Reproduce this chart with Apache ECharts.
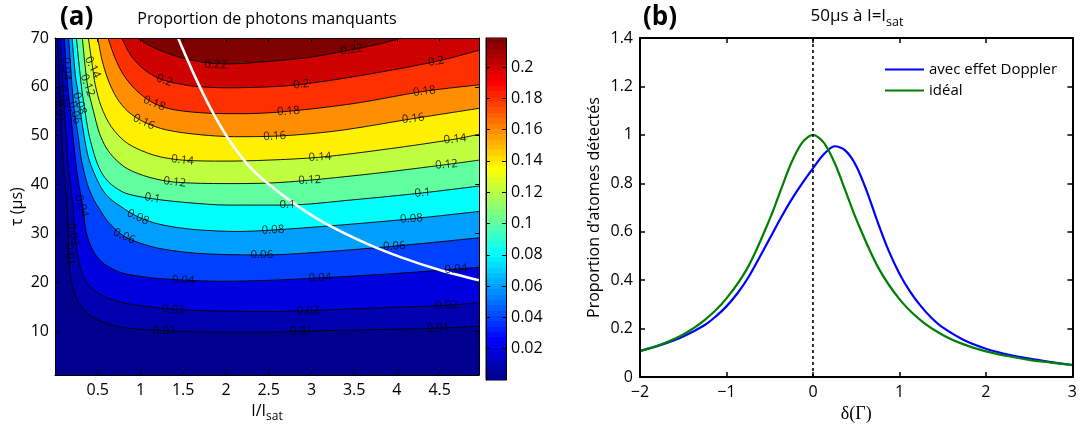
<!DOCTYPE html>
<html>
<head>
<meta charset="utf-8">
<title>Proportion de photons manquants</title>
<script src="https://cdn.jsdelivr.net/npm/echarts@6.0.0/dist/echarts.min.js"></script>
<style>
html,body{margin:0;padding:0;background:#ffffff;}
#chart{width:1080px;height:428px;}
</style>
</head>
<body>
<div id="chart"></div>
<script>
// ================= Panel (a) : contour data (I/Isat , tau in µs) =================
const contourLevels = [0.01, 0.02, 0.04, 0.06, 0.08, 0.1, 0.12, 0.14, 0.16, 0.18, 0.2, 0.22];
const line001 = [[0.03,70],[0.055,60],[0.08,50],[0.1,44],[0.125,39],[0.145,35],[0.155,29],[0.165,24],[0.2,19.5],[0.27,16],[0.38,13.6],[0.5,12.3],[0.77,10.8],[1.28,10.1],[1.94,9.8],[2.5,9.8],[2.9,10.0],[3.7,10.3],[4.48,10.6],[4.96,11.0]];
const line002 = [[0.06,70],[0.095,60],[0.13,50],[0.155,44],[0.18,40],[0.21,35.5],[0.235,29.5],[0.27,25],[0.32,21.7],[0.38,19.7],[0.48,18.1],[0.6,16.9],[0.8,15.8],[0.97,15.3],[1.3,14.6],[1.7,14.2],[2.5,14.0],[2.96,14.2],[3.7,14.7],[4.58,15.3],[4.96,15.8]];
const line004 = [[0.11,70],[0.13,64],[0.15,60],[0.18,55],[0.21,50],[0.24,45],[0.28,40],[0.325,35.5],[0.364,30.4],[0.41,27.8],[0.48,25.5],[0.58,23.7],[0.77,22],[1.08,21],[1.45,20.5],[1.94,20.2],[2.5,20.4],[3.1,20.9],[3.9,21.7],[4.69,22.7],[4.96,23.05]];
const line006 = [[0.16,70],[0.2,60],[0.23,54.7],[0.27,50],[0.31,45],[0.38,40],[0.45,37],[0.52,35],[0.62,32.4],[0.81,29.4],[1.0,28],[1.2,27],[1.55,26.1],[1.94,25.7],[2.45,25.6],[3.2,26.3],[3.97,27.4],[4.96,29.1]];
const line008 = [[0.2,70],[0.24,62],[0.26,60],[0.285,56.6],[0.34,50],[0.4,45],[0.52,40],[0.62,37.5],[0.77,35.5],[0.97,33.4],[1.24,31.8],[1.63,30.8],[2.14,30.4],[2.55,30.7],[3.4,31.8],[4.17,33],[4.96,34.5]];
const line010 = [[0.25,70],[0.31,60],[0.36,54],[0.4,50],[0.48,45],[0.56,42],[0.66,40],[0.83,38.2],[1.14,37.1],[1.55,36.3],[2.02,35.8],[2.7,35.8],[3.5,36.9],[4.3,38.3],[4.96,39.7]];
const line012 = [[0.32,70],[0.38,60.3],[0.45,55],[0.52,50.5],[0.6,47.5],[0.7,45.3],[0.85,43.2],[1.1,41.5],[1.4,40.5],[2.0,40.2],[2.49,40.3],[2.98,40.9],[3.8,42.4],[4.58,44.1],[4.96,45.0]];
const line014 = [[0.39,70],[0.44,64],[0.47,60.5],[0.54,56],[0.66,51.8],[0.85,48.4],[1.16,46],[1.49,45.0],[2.0,44.8],[2.49,45.0],[3.1,45.6],[3.9,47.3],[4.68,49.3],[4.96,50.3]];
const line016 = [[0.5,70],[0.55,65.5],[0.62,61.5],[0.72,57.8],[0.85,55],[1.04,52.8],[1.3,51.2],[1.7,50.2],[2.1,49.8],[2.57,49.9],[3.3,51],[4.19,53.5],[4.96,55.6]];
const line018 = [[0.62,70],[0.7,66],[0.8,62.5],[0.95,59.3],[1.16,56.6],[1.4,55.3],[1.8,54.6],[2.2,54.5],[2.73,55.0],[3.5,56.6],[4.32,59.1],[4.96,60.4]];
const line020 = [[0.78,70],[0.88,66.6],[1.0,64.2],[1.13,62.5],[1.28,61.3],[1.6,60.2],[2.0,59.8],[2.5,60.0],[2.88,60.5],[3.6,62.4],[4.46,65.2],[4.96,67.5]];
const line022 = [[0.97,70],[1.08,68.7],[1.24,67.4],[1.47,66],[1.75,65],[2.02,64.7],[2.5,65.2],[3.0,66.1],[3.47,67.6],[3.8,68.8],[4.05,70]];
const contourLines = [line001, line002, line004, line006, line008, line010, line012, line014, line016, line018, line020, line022];

// white curve
const whiteCurve = [[1.44,70],[1.63,62.4],[1.82,55.6],[2.02,49.6],[2.25,44.2],[2.49,40.2],[2.84,35.6],[3.19,31.8],[3.66,27.8],[4.05,25.1],[4.52,22.4],[4.96,20.4]];

// contour labels: [x, y, text, angle]
const contourLabels = [
  [1.88,64.5,'0.22',-2],[3.47,67.6,'0.22',9],
  [1.28,61.3,'0.2',-20],[2.88,60.5,'0.2',5],[4.46,65.2,'0.2',10],
  [1.16,56.6,'0.18',-22],[2.73,55.0,'0.18',4],[4.32,59.1,'0.18',7],
  [1.04,52.8,'0.16',-25],[2.57,49.9,'0.16',3],[4.19,53.5,'0.16',6],
  [1.49,45.0,'0.14',-7],[3.10,45.6,'0.14',3],[4.68,49.3,'0.14',6],
  [1.40,40.5,'0.12',-7],[2.98,40.9,'0.12',3],[4.58,44.1,'0.12',5],
  [1.14,37.2,'0.1',-10],[2.72,35.8,'0.1',0],[4.30,38.3,'0.1',4],
  [0.97,33.3,'0.08',-25],[2.55,30.7,'0.08',2],[4.17,33.0,'0.08',4],
  [0.81,29.4,'0.06',-25],[2.42,25.6,'0.06',0],[3.97,27.4,'0.06',3],
  [1.5,20.4,'0.04',-3],[3.10,20.9,'0.04',2],[4.69,22.7,'0.04',4],
  [1.38,14.4,'0.02',-3],[2.96,14.2,'0.02',2],[4.58,15.3,'0.02',3],
  [1.28,10.1,'0.01',-2],[2.88,10.0,'0.01',1],[4.48,10.6,'0.01',2],
  [0.44,64.0,'0.14',-65],[0.38,60.3,'0.12',-70],[0.285,56.6,'0.08',-72],[0.23,54.7,'0.06',-75],
  [0.13,63.7,'0.04',-88],[0.09,58.0,'0.02',-88],[0.05,55.0,'0.01',-90],
  [0.31,35.6,'0.04',-72],[0.21,29.8,'0.02',-80],[0.17,25.7,'0.01',-85]
];

const xTicksA = [0.5, 1, 1.5, 2, 2.5, 3, 3.5, 4, 4.5];
const yTicksA = [10, 20, 30, 40, 50, 60, 70];
const colorbarTicks = [0.02, 0.04, 0.06, 0.08, 0.1, 0.12, 0.14, 0.16, 0.18, 0.2];
const colorLimits = [0.001, 0.2185];

// ================= Panel (b) : detuning curves =================
const dopplerCurve = [[-2,0.108],[-1.75,0.134],[-1.5,0.168],[-1.25,0.215],[-1.125,0.25],[-1.0,0.292],[-0.875,0.345],[-0.75,0.41],[-0.625,0.49],[-0.5,0.572],[-0.375,0.655],[-0.25,0.732],[-0.125,0.8],[0,0.862],[0.125,0.92],[0.25,0.953],[0.375,0.935],[0.5,0.872],[0.625,0.765],[0.75,0.638],[0.875,0.522],[1.0,0.427],[1.125,0.352],[1.25,0.292],[1.375,0.243],[1.5,0.205],[1.75,0.152],[2.0,0.117],[2.25,0.093],[2.5,0.076],[2.75,0.062],[3,0.05]];
const idealCurve = [[-2,0.107],[-1.75,0.136],[-1.5,0.176],[-1.25,0.236],[-1.0,0.325],[-0.75,0.455],[-0.5,0.652],[-0.375,0.77],[-0.25,0.885],[-0.125,0.968],[0,1.0],[0.125,0.968],[0.25,0.885],[0.375,0.77],[0.5,0.652],[0.75,0.455],[1.0,0.322],[1.25,0.233],[1.5,0.174],[1.75,0.134],[2.0,0.106],[2.25,0.087],[2.5,0.071],[2.75,0.06],[3,0.05]];
const resonanceLine = [[0,0],[0,1.4]];
const seriesNamesB = ['avec effet Doppler', 'idéal'];

// ================= helpers (colormap) =================
const F = "'Open Sans', 'DejaVu Sans', sans-serif";
function jet64(k){ // MATLAB jet(64), k = 1..64
  const u = [];
  for (let i = 1; i <= 16; i++) u.push(i/16);
  for (let i = 0; i < 15; i++) u.push(1);
  for (let i = 16; i >= 1; i--) u.push(i/16);
  const f = i => (i >= 0 && i < u.length) ? u[i] : 0;
  const r = f(k-25), g = f(k-9), b = f(k+7);
  const h = v => Math.round(v*255).toString(16).padStart(2,'0');
  return '#' + h(r) + h(g) + h(b);
}
function colorOf(v){
  let k = Math.floor((v - colorLimits[0]) / (colorLimits[1] - colorLimits[0]) * 64) + 1;
  k = Math.max(1, Math.min(64, k));
  return jet64(k);
}
const cbStops = [];
for (let k = 1; k <= 64; k++){
  cbStops.push({offset:(k-1)/64, color:jet64(k)});
  cbStops.push({offset:k/64, color:jet64(k)});
}

const black = '#000';
function tickAxis(extra){
  return Object.assign({
    axisLine:{show:true, onZero:false, lineStyle:{color:black, width:1}},
    splitLine:{show:false},
    z:10
  }, extra);
}
const subRich = {
  n:{fontSize:16, fontFamily:F, color:black, fill:black, verticalAlign:'bottom', padding:[0,0,4,0]},
  s:{fontSize:12, fontFamily:F, color:black, fill:black, verticalAlign:'bottom'}
};
const subRich17 = {
  n:{fontSize:17, fontFamily:F, color:black, fill:black, verticalAlign:'bottom', padding:[0,0,4,0]},
  s:{fontSize:12.5, fontFamily:F, color:black, fill:black, verticalAlign:'bottom'}
};

const series = [];
contourLevels.forEach((lv, i) => {
  series.push({
    type:'line', xAxisIndex:0, yAxisIndex:0, data:contourLines[i],
    smooth:0.3, symbol:'none', silent:true, clip:true,
    lineStyle:{color:black, width:0.9},
    areaStyle:{origin:'end', color:colorOf(lv), opacity:1}
  });
});
series.push({
  type:'line', xAxisIndex:0, yAxisIndex:0, data:whiteCurve, smooth:0.3, symbol:'none', silent:true,
  lineStyle:{color:'#ffffff', width:2.6}, z:4
});
series.push({
  type:'scatter', xAxisIndex:0, yAxisIndex:0, symbolSize:0, silent:true, z:5,
  itemStyle:{color:'transparent'},
  data: contourLabels.map(d => ({value:[d[0], d[1]], name:d[2], label:{rotate:d[3]}})),
  label:{show:true, position:'inside', formatter:p => p.name, color:black, fontSize:11.5, fontFamily:F}
});
series.push({
  type:'bar', xAxisIndex:2, yAxisIndex:2, data:[colorLimits[1]], barWidth:'100%', silent:true,
  itemStyle:{color:new echarts.graphic.LinearGradient(0,1,0,0,cbStops)}
});
series.push({
  name:seriesNamesB[0], type:'line', xAxisIndex:3, yAxisIndex:4, data:dopplerCurve, smooth:0.3, symbol:'none',
  lineStyle:{color:'#0000ff', width:2.2}, itemStyle:{color:'#0000ff'}
});
series.push({
  name:seriesNamesB[1], type:'line', xAxisIndex:3, yAxisIndex:4, data:idealCurve, smooth:0.3, symbol:'none',
  lineStyle:{color:'#008000', width:2.2}, itemStyle:{color:'#008000'}
});
series.push({
  type:'line', xAxisIndex:3, yAxisIndex:4, data:resonanceLine, symbol:'none', silent:true, z:6,
  lineStyle:{color:black, width:1.6, type:[3,3]}
});

const lblA = {color:black, fontSize:16, fontFamily:F};

const option = {
  animation:false,
  backgroundColor:'#ffffff',
  grid:[
    {left:55, top:38, width:424, height:342, show:true, backgroundColor:colorOf(0), borderWidth:0},
    {left:486, top:38, width:20, height:342, show:true, borderColor:black, borderWidth:1, backgroundColor:'transparent'},
    {left:640, top:38, width:436, height:343}
  ],
  xAxis:[
    tickAxis({gridIndex:0, type:'value', min:0, max:4.96, position:'bottom',
      axisTick:{show:true, inside:true, length:4, customValues:xTicksA, lineStyle:{color:black}},
      axisLabel:Object.assign({show:true, customValues:xTicksA, margin:7}, lblA),
      name:'{n|I/I}{s|sat}', nameLocation:'middle', nameGap:22,
      nameTextStyle:{rich:subRich}
    }),
    tickAxis({gridIndex:0, type:'value', min:0, max:4.96, position:'top',
      axisTick:{show:true, inside:true, length:4, customValues:xTicksA, lineStyle:{color:black}},
      axisLabel:{show:false}}),
    {gridIndex:1, type:'category', data:['cb'], show:false},
    tickAxis({gridIndex:2, type:'value', min:-2, max:3, interval:1, position:'bottom',
      axisLine:{show:true, onZero:false, lineStyle:{color:black, width:2}},
      axisTick:{show:true, inside:true, length:5, lineStyle:{color:black, width:1.5}},
      axisLabel:Object.assign({margin:7, formatter:v => v < 0 ? '\u2212' + Math.abs(v) : String(v)}, lblA),
      name:'δ(Γ)', nameLocation:'middle', nameGap:24,
      nameTextStyle:{fontSize:18, fontFamily:"'Liberation Serif', 'DejaVu Serif', serif", color:black}}),
    tickAxis({gridIndex:2, type:'value', min:-2, max:3, interval:1, position:'top',
      axisLine:{show:true, onZero:false, lineStyle:{color:black, width:2}},
      axisTick:{show:true, inside:true, length:5, lineStyle:{color:black, width:1.5}},
      axisLabel:{show:false}})
  ],
  yAxis:[
    tickAxis({gridIndex:0, type:'value', min:1, max:70, position:'left',
      axisTick:{show:true, inside:true, length:4, customValues:yTicksA, lineStyle:{color:black}},
      axisLabel:Object.assign({show:true, customValues:yTicksA, margin:6}, lblA),
      name:'τ (μs)', nameLocation:'middle', nameGap:30, nameRotate:90,
      nameTextStyle:{fontSize:16, fontFamily:F, color:black}}),
    tickAxis({gridIndex:0, type:'value', min:1, max:70, position:'right',
      axisTick:{show:true, inside:true, length:4, customValues:yTicksA, lineStyle:{color:black}},
      axisLabel:{show:false}}),
    tickAxis({gridIndex:1, type:'value', min:0, max:colorLimits[1], position:'right',
      axisTick:{show:true, inside:true, length:4, customValues:colorbarTicks, lineStyle:{color:black}},
      axisLabel:Object.assign({show:true, customValues:colorbarTicks, margin:5,
        formatter:v => String(+v.toFixed(2))}, lblA)}),
    tickAxis({gridIndex:1, type:'value', min:0, max:colorLimits[1], position:'left',
      axisTick:{show:true, inside:true, length:4, customValues:colorbarTicks, lineStyle:{color:black}},
      axisLabel:{show:false}}),
    tickAxis({gridIndex:2, type:'value', min:0, max:1.4, interval:0.2, position:'left',
      axisLine:{show:true, onZero:false, lineStyle:{color:black, width:2}},
      axisTick:{show:true, inside:true, length:5, lineStyle:{color:black, width:1.5}},
      axisLabel:Object.assign({margin:7, formatter:v => String(+v.toFixed(1))}, lblA),
      name:'Proportion d’atomes détectés', nameLocation:'middle', nameGap:38, nameRotate:90,
      nameTextStyle:{fontSize:16, fontFamily:F, color:black}}),
    tickAxis({gridIndex:2, type:'value', min:0, max:1.4, interval:0.2, position:'right',
      axisLine:{show:true, onZero:false, lineStyle:{color:black, width:2}},
      axisTick:{show:true, inside:true, length:5, lineStyle:{color:black, width:1.5}},
      axisLabel:{show:false}})
  ],
  legend:{
    data:seriesNamesB, orient:'vertical', left:880, top:57, itemWidth:39, itemHeight:14, itemGap:6,
    textStyle:{fontSize:15, fontFamily:F, color:black},
    icon:'path://M0,6 L40,6 L40,8 L0,8 Z'
  },
  graphic:[
    {type:'text', x:60, y:5, style:{text:'(a)', font:"bold 26px 'Open Sans', sans-serif", fill:black}},
    {type:'text', x:267, y:11, style:{text:'Proportion de photons manquants', align:'center', font:"16px 'Open Sans', sans-serif", fill:black}},
    {type:'text', x:643, y:5, style:{text:'(b)', font:"bold 26px 'Open Sans', sans-serif", fill:black}},
    {type:'text', x:857, y:8, style:{text:'{n|50μs à I=I}{s|sat}', align:'center', fill:black, rich:subRich17}}
  ],
  series:series
};

const chart = echarts.init(document.getElementById('chart'), null, {renderer:'canvas', width:1080, height:428});
chart.setOption(option);
</script>
</body>
</html>
